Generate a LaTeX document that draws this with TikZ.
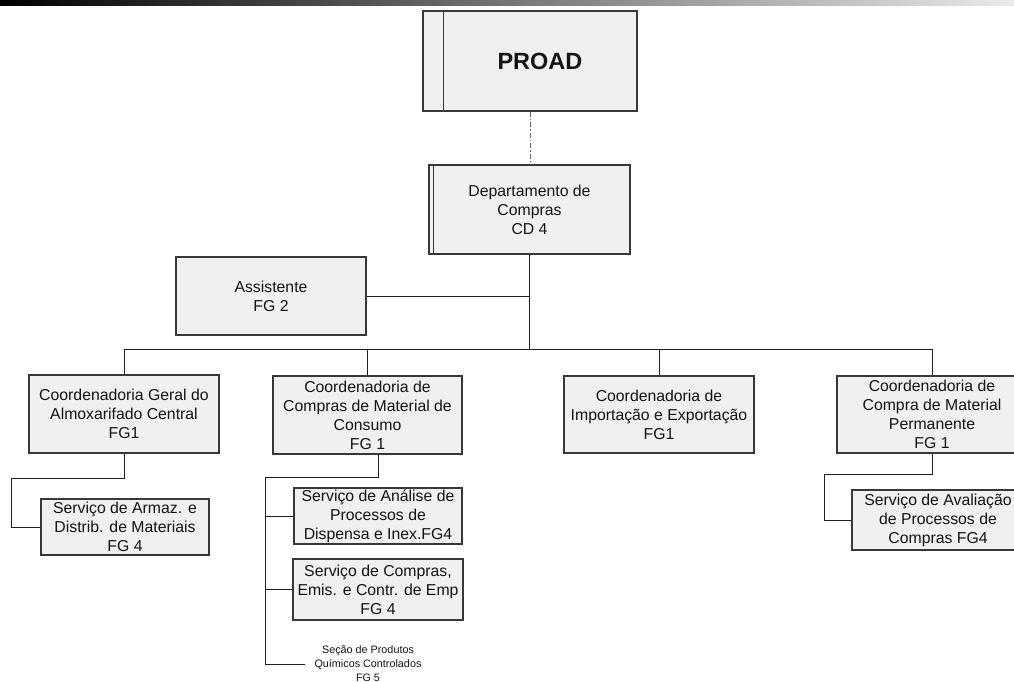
\documentclass[tikz,border=0pt]{standalone}
\usepackage{fontspec}
\setmainfont{Liberation Sans}
\begin{document}
\begin{tikzpicture}[x=1pt,y=-1pt,
  orgbox/.style={draw=black!78, fill=black!6, line width=1.1pt, inner sep=0pt,
    align=center, text=black!92, font=\fontsize{15.8}{19}\selectfont},
  wire/.style={draw=black!88, line width=1pt},
  smalltext/.style={align=center, inner xsep=9pt, inner ysep=0pt, text=black!92,
    font=\fontsize{10.8}{14}\selectfont}]
\useasboundingbox (0,0) rectangle (1014,681);
\clip (0,0) rectangle (1014,681);

% header band
\shade[left color=black, right color=black!8] (0,0) rectangle (1014,5);

% top level
\node[orgbox, minimum width=214pt, minimum height=100pt,
  font=\fontsize{23.5}{28}\selectfont\bfseries] (proad) at (530,61) {\hspace*{20pt}PROAD};
\draw[draw=black!78, line width=1.1pt] ([xshift=21pt]proad.north west) -- ([xshift=21pt]proad.south west);

\node[orgbox, minimum width=201pt, minimum height=89pt] (dept) at (529.5,209.5)
  {Departamento de\\Compras\\CD 4};
\draw[draw=black!78, line width=1.1pt] ([xshift=5pt]dept.north west) -- ([xshift=5pt]dept.south west);

\draw[draw=black!60, line width=1pt, dash pattern=on 5pt off 2pt on 1.5pt off 2pt]
  (proad.south) -- (proad.south |- dept.north);

\node[orgbox, minimum width=190pt, minimum height=78pt] (assist) at (271,296) {Assistente\\FG 2};

% coordination level
\node[orgbox, minimum width=190pt, minimum height=78pt] (cg) at (124,414)
  {Coordenadoria Geral do\\Almoxarifado Central\\FG1};
\node[orgbox, minimum width=189pt, minimum height=78pt] (cc) at (367.5,415)
  {Coordenadoria de\\Compras de Material de\\Consumo\\FG 1};
\node[orgbox, minimum width=190pt, minimum height=77pt] (ci) at (659,414.5)
  {Coordenadoria de\\Importação e Exportação\\FG1};
\node[orgbox, minimum width=190pt, minimum height=77pt] (cp) at (932,414.5)
  {Coordenadoria de\\Compra de Material\\Permanente\\FG 1};

% services
\node[orgbox, minimum width=168pt, minimum height=56pt] (armaz) at (125,527)
  {Serviço de Armaz. e\\Distrib. de Materiais\\FG 4};
\node[orgbox, minimum width=168pt, minimum height=56pt] (analise) at (378,516)
  {Serviço de Análise de\\Processos de\\Dispensa e Inex.FG4};
\node[orgbox, minimum width=170pt, minimum height=61pt] (compras) at (378,589.5)
  {Serviço de Compras,\\Emis. e Contr. de Emp\\FG 4};
\node[orgbox, minimum width=172pt, minimum height=60pt] (aval) at (938,520)
  {Serviço de Avaliação\\de Processos de\\Compras FG4};
\node[smalltext] (quim) at (368,664)
  {Seção de Produtos\\Químicos Controlados\\FG 5};

% connectors
\coordinate (bus) at (530,349);
\draw[wire] (dept.south) -- (dept.south |- bus);
\draw[wire] (assist.east) -- (assist.east -| dept.south);
\draw[wire] (cg.north) |- (cp.north |- bus) -- (cp.north);
\draw[wire] (cc.north) -- (cc.north |- bus);
\draw[wire] (ci.north) -- (ci.north |- bus);

\draw[wire] (cg.south) -- ++(0,25) -| ([xshift=-29pt]armaz.west) -- (armaz.west);

\coordinate (trunk) at ([xshift=-28pt]analise.west);
\draw[wire] ([xshift=10.5pt]cc.south) -- ++(0,23) -| (trunk |- quim.west) -- (quim.west);
\draw[wire] (trunk) -- (analise.west);
\draw[wire] (trunk |- compras.west) -- (compras.west);

\draw[wire] (cp.south) -- ++(0,21) -| ([xshift=-27pt]aval.west) -- (aval.west);
\end{tikzpicture}
\end{document}
